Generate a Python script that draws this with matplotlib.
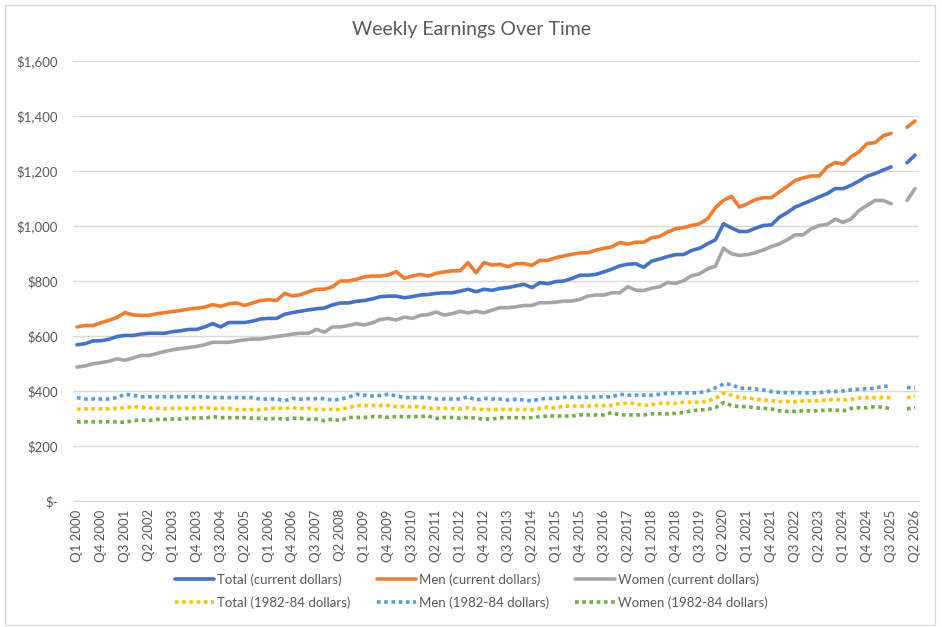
import matplotlib
matplotlib.use("Agg")
import matplotlib.pyplot as plt
import numpy as np
from matplotlib.patches import Rectangle
from matplotlib.ticker import FuncFormatter, MultipleLocator

plt.rcParams['font.family'] = ['Lato', 'DejaVu Sans']

years = list(range(2000, 2027))
quarters = [f"Q{q} {y}" for y in years for q in (1, 2, 3, 4)][:106]

nan = np.nan

total_current = [568, 572, 582, 583, 588, 598, 602, 602, 607, 610, 610, 610, 616, 619, 624, 624,
                 633, 645, 633, 649, 649, 649, 654, 662, 664, 664, 679, 685, 690, 695, 699, 702,
                 713, 720, 720, 726, 729, 735, 743, 745, 745, 739, 743, 749, 751, 755, 757, 757,
                 763, 770, 761, 770, 766, 773, 776, 782, 788, 776, 794, 790, 798, 800, 809, 821,
                 821, 824, 833, 843, 855, 861, 863, 850, 872, 880, 889, 896, 896, 911, 919, 935,
                 950, 1008, 993, 980, 980, 992, 1002, 1004, 1032, 1049, 1069, 1081, 1093, 1106, 1118, 1136,
                 1136, 1148, 1164, 1181, 1191, 1203, 1215, nan, 1230, 1258]

men_current = [633, 638, 638, 648, 657, 667, 685, 677, 675, 675, 681, 685, 689, 693, 698, 701,
               705, 714, 708, 717, 720, 711, 720, 729, 732, 729, 755, 746, 750, 761, 770, 770,
               779, 800, 800, 806, 815, 818, 818, 822, 834, 810, 818, 824, 818, 828, 833, 837,
               837, 867, 830, 867, 858, 861, 852, 863, 863, 857, 875, 875, 885, 891, 897, 902,
               903, 912, 919, 924, 940, 934, 941, 941, 957, 962, 978, 990, 994, 1002, 1008, 1026,
               1067, 1093, 1108, 1069, 1081, 1096, 1103, 1103, 1124, 1144, 1166, 1175, 1182, 1182, 1215, 1231,
               1225, 1252, 1270, 1300, 1303, 1328, 1337, nan, 1359, 1382]

women_current = [487, 491, 499, 503, 508, 517, 512, 520, 529, 529, 536, 544, 550, 554, 558, 562,
                 568, 577, 577, 577, 582, 586, 589, 589, 594, 598, 602, 607, 610, 610, 624, 614,
                 633, 633, 638, 645, 640, 648, 660, 664, 658, 669, 664, 675, 678, 687, 676, 681,
                 690, 684, 690, 684, 694, 703, 703, 706, 711, 711, 721, 721, 723, 727, 727, 733,
                 745, 749, 749, 757, 757, 779, 767, 765, 774, 779, 795, 791, 801, 819, 826, 844,
                 854, 919, 899, 893, 896, 903, 913, 925, 935, 950, 968, 968, 990, 1002, 1006, 1025,
                 1013, 1026, 1057, 1075, 1093, 1093, 1081, nan, 1093, 1136]

total_real = [333, 335, 335, 335, 335, 337, 339, 343, 341, 338, 338, 335, 337, 337, 337, 337,
              341, 335, 337, 337, 333, 333, 333, 331, 337, 337, 337, 339, 337, 337, 333, 333,
              333, 333, 339, 347, 347, 347, 347, 347, 343, 343, 343, 343, 337, 337, 337, 337,
              335, 339, 334, 333, 333, 333, 333, 333, 333, 331, 337, 341, 338, 345, 345, 345,
              345, 347, 347, 347, 355, 355, 355, 347, 351, 355, 355, 355, 359, 359, 359, 364,
              373, 392, 385, 376, 375, 371, 367, 365, 362, 362, 361, 364, 364, 365, 367, 370,
              367, 370, 375, 376, 376, 376, 376, nan, 376, 379]

men_real = [376, 371, 371, 371, 371, 376, 388, 385, 379, 379, 379, 379, 379, 379, 379, 379,
            379, 376, 376, 376, 376, 376, 376, 370, 371, 371, 365, 373, 370, 372, 372, 372,
            367, 370, 377, 388, 385, 382, 384, 388, 382, 376, 376, 376, 376, 371, 371, 371,
            371, 379, 367, 373, 371, 371, 367, 370, 367, 364, 371, 373, 373, 377, 377, 377,
            377, 379, 379, 379, 388, 385, 385, 385, 385, 388, 392, 393, 393, 393, 394, 400,
            412, 425, 424, 410, 410, 407, 404, 398, 395, 394, 395, 393, 393, 394, 398, 398,
            400, 404, 407, 408, 410, 418, 416, nan, 413, 412]

women_real = [288, 288, 288, 288, 288, 288, 286, 292, 295, 292, 297, 297, 298, 298, 301, 303,
              301, 307, 303, 303, 303, 303, 301, 301, 298, 301, 297, 301, 301, 297, 298, 292,
              298, 292, 304, 304, 304, 307, 307, 304, 307, 307, 307, 307, 309, 300, 304, 304,
              301, 304, 301, 298, 298, 303, 303, 303, 303, 303, 307, 309, 309, 309, 309, 313,
              313, 313, 313, 322, 313, 313, 313, 313, 317, 317, 317, 319, 322, 328, 331, 333,
              340, 358, 347, 343, 343, 339, 337, 335, 328, 326, 326, 328, 328, 328, 331, 331,
              328, 337, 339, 339, 343, 341, 335, nan, 335, 339]

series = [
    ("Total (current dollars)", total_current, "#4472C4", "-"),
    ("Men (current dollars)", men_current, "#ED7D31", "-"),
    ("Women (current dollars)", women_current, "#A5A5A5", "-"),
    ("Total (1982-84 dollars)", total_real, "#FFC000", (0, (1, 1))),
    ("Men (1982-84 dollars)", men_real, "#5B9BD5", (0, (1, 1))),
    ("Women (1982-84 dollars)", women_real, "#70AD47", (0, (1, 1))),
]

fig = plt.figure(figsize=(9.42, 6.27), dpi=100)
ax = fig.add_axes([73/942, 1 - 501/627, (919 - 73)/942, (501 - 61)/627])

x = np.arange(len(quarters))
handles = []
for label, vals, color, ls in series:
    h, = ax.plot(x, np.array(vals, dtype=float), color=color, lw=2.6, ls=ls,
                 solid_capstyle='round', dash_capstyle='butt', label=label)
    handles.append(h)

ax.set_xlim(-0.5, len(quarters) - 0.5)
ax.set_ylim(0, 1600)
ax.yaxis.set_major_locator(MultipleLocator(200))
ax.yaxis.set_major_formatter(FuncFormatter(lambda v, p: "$-" if v == 0 else f"${v:,.0f}"))
ax.set_xticks(x[::3])
ax.set_xticklabels(quarters[::3], rotation=90, fontsize=9.5, color="#595959")
ax.tick_params(axis='y', labelsize=9.5, labelcolor="#595959", length=0, pad=11)
ax.tick_params(axis='x', length=0, pad=6)
ax.grid(axis='y', color="#D9D9D9", lw=1)
ax.set_axisbelow(True)
for s in ("top", "right", "left"):
    ax.spines[s].set_visible(False)
ax.spines["bottom"].set_color("#D9D9D9")

fig.text(0.5, 1 - 30/627, "Weekly Earnings Over Time", ha="center", va="center",
         fontsize=14, color="#595959")

order = [0, 3, 1, 4, 2, 5]
leg = fig.legend([handles[i] for i in order], [series[i][0] for i in order],
                 ncol=3, loc="center", bbox_to_anchor=(0.5, 1 - 591/627),
                 frameon=False, fontsize=9.5, handlelength=3.0, handletextpad=0.2,
                 columnspacing=2.0, labelspacing=0.8)
for t in leg.get_texts():
    t.set_color("#595959")

fig.patches.append(Rectangle((5/942, 1 - 625/627), 930/942, 620/627, transform=fig.transFigure,
                             fill=False, edgecolor="#D9D9D9", lw=1))

fig.savefig("out.png", dpi=100, facecolor="white")
